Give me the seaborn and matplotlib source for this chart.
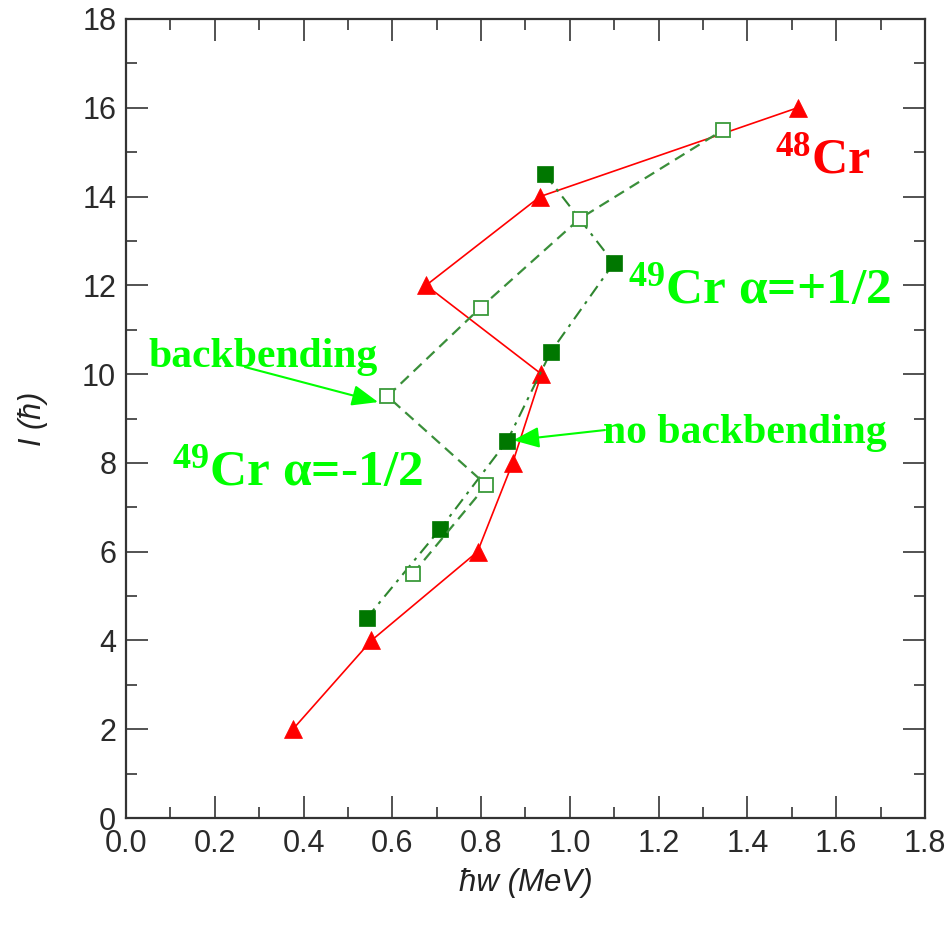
import matplotlib
matplotlib.use("Agg")
import matplotlib.pyplot as plt
from matplotlib.ticker import MultipleLocator, FormatStrFormatter
import seaborn as sns

# Rotational frequency (MeV) and spin I (hbar) along the yrast bands
cr48_w = [0.376, 0.553, 0.792, 0.871, 0.936, 0.676, 0.933, 1.513]
cr48_I = [2, 4, 6, 8, 10, 12, 14, 16]

cr49_plus_w = [0.542, 0.707, 0.859, 0.957, 1.099, 0.944]
cr49_plus_I = [4.5, 6.5, 8.5, 10.5, 12.5, 14.5]

cr49_minus_w = [0.646, 0.812, 0.589, 0.799, 1.022, 1.345]
cr49_minus_I = [5.5, 7.5, 9.5, 11.5, 13.5, 15.5]

x_label = "ħw (MeV)"
y_label = "I (ħ)"

sns.set_theme(style="ticks")
plt.rcParams["font.family"] = ["Liberation Sans", "DejaVu Sans"]
plt.rcParams["mathtext.fontset"] = "custom"
plt.rcParams["mathtext.rm"] = "Liberation Serif:bold"
plt.rcParams["mathtext.it"] = "Liberation Serif:bold"
plt.rcParams["mathtext.bf"] = "Liberation Serif:bold"

fig = plt.figure(figsize=(9.5, 9.26), dpi=100)
ax = fig.add_axes([0.1326, 0.1166, 0.8411, 0.8629])

RED = "#ff0000"
LIME = "#00ff00"

# 48Cr: solid red with triangles
sns.lineplot(x=cr48_w, y=cr48_I, sort=False, estimator=None, ax=ax,
             color=RED, linewidth=1.2, marker="^", markersize=13.5,
             markerfacecolor=RED, markeredgecolor=RED, markeredgewidth=0.5,
             zorder=3)

# 49Cr, filled squares, dash-dot
sns.lineplot(x=cr49_plus_w, y=cr49_plus_I, sort=False, estimator=None, ax=ax,
             color="#2f862f", linewidth=1.5, linestyle=(0, (6, 3, 1.5, 3)),
             marker="s", markersize=11, markerfacecolor="#007700",
             markeredgecolor="#007700", markeredgewidth=0.5, zorder=4)

# 49Cr, open squares, dashed
sns.lineplot(x=cr49_minus_w, y=cr49_minus_I, sort=False, estimator=None, ax=ax,
             color="#3a8f3a", linewidth=1.6, linestyle=(0, (5, 3)),
             marker="s", markersize=10.5, markerfacecolor="white",
             markeredgecolor="#3a9a3a", markeredgewidth=1.3, zorder=5)

ax.set_xlim(0, 1.8)
ax.set_ylim(0, 18)
ax.xaxis.set_major_locator(MultipleLocator(0.2))
ax.xaxis.set_minor_locator(MultipleLocator(0.1))
ax.xaxis.set_major_formatter(FormatStrFormatter("%.1f"))
ax.yaxis.set_major_locator(MultipleLocator(2))
ax.yaxis.set_minor_locator(MultipleLocator(1))

ax.tick_params(which="both", direction="in", top=True, right=True,
               color="#444444", width=1.3)
ax.tick_params(which="major", length=16, labelsize=22,
               labelcolor="#2a2a2a")
ax.tick_params(axis="x", which="major", pad=8)
ax.tick_params(axis="y", which="major", pad=7)
ax.tick_params(which="minor", length=8)
for s in ax.spines.values():
    s.set_linewidth(1.6)
    s.set_color("#333333")

ax.set_xlabel(x_label, fontsize=22.5, style="italic", color="#222222")
ax.xaxis.set_label_coords(0.5, -0.062)
ax.set_ylabel(y_label, fontsize=22, style="italic", color="#222222")
ax.yaxis.set_label_coords(-0.098, 0.5)

serif = dict(fontfamily="Liberation Serif", fontweight="bold", va="baseline",
             ha="left")
ax.text(0.05, 10.16, "backbending", color=LIME, fontsize=30, **serif)
ax.text(1.074, 8.44, "no backbending", color=LIME, fontsize=30, **serif)
ax.text(0.104, 7.5, r"$^{49}$Cr α=-1/2", color=LIME, fontsize=37, **serif)
ax.text(1.131, 11.6, r"$^{49}$Cr α=+1/2", color=LIME, fontsize=37, **serif)
ax.text(1.462, 14.55, r"$^{48}$Cr", color=RED, fontsize=36, **serif)

arrow = dict(arrowstyle="-|>,head_length=0.8,head_width=0.32", color=LIME,
             lw=1.5, mutation_scale=20, shrinkA=0, shrinkB=0)
ax.annotate("", xy=(0.568, 9.37), xytext=(0.268, 10.16), arrowprops=arrow)
ax.annotate("", xy=(0.872, 8.51), xytext=(1.079, 8.74), arrowprops=arrow)

fig.savefig("out.png", dpi=100)
